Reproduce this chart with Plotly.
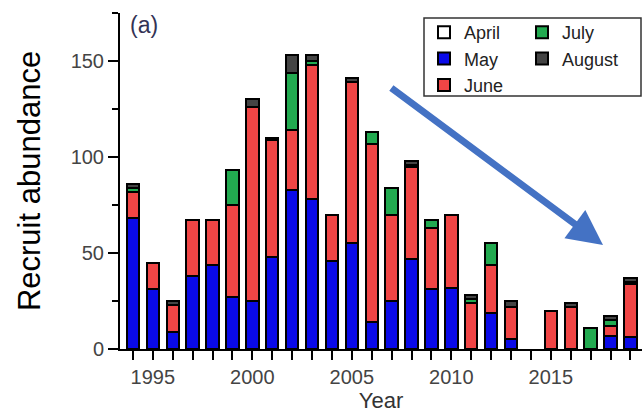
import plotly.graph_objects as go

# ---- data ----
years = list(range(1994, 2020))
april = [0] * 26
may = [68, 31, 9, 38, 44, 27, 25, 48, 83, 78, 46, 55, 14, 25, 47, 31, 32, 0, 19, 5, 0, 0, 0, 0, 7, 6]
june = [14, 14, 14, 29, 23, 48, 101, 61, 31, 70, 24, 84, 93, 45, 48, 32, 38, 24, 25, 17, 0, 20, 22, 0, 5, 28]
july = [2, 0, 0, 0, 0, 18, 0, 0, 30, 2, 0, 0, 6, 14, 1, 4, 0, 2, 11, 0, 0, 0, 0, 11, 3, 1]
august = [2, 0, 2, 0, 0, 0, 4, 1, 9, 3, 0, 2, 0, 0, 2, 0, 0, 2, 0, 3, 0, 0, 2, 0, 2, 2]

series = [
    ("April", april, "#ffffff", "legend"),
    ("May", may, "#0a0ae8", "legend"),
    ("June", june, "#f04545", "legend"),
    ("July", july, "#22aa50", "legend2"),
    ("August", august, "#444444", "legend2"),
]

FONT = "Liberation Sans, Arial, sans-serif"

fig = go.Figure()
for name, vals, color, lg in series:
    fig.add_trace(go.Bar(
        x=years, y=[v if v else None for v in vals], name=name, legend=lg,
        width=0.62,
        marker=dict(color=color, line=dict(color="black", width=2)),
    ))

# plot-area geometry in pixels (for placing legend/annotations)
W, H = 642, 413
L, R, T, B = 120, 0, 13, 64
pw, ph = W - L - R, H - T - B

def px(xp):
    return (xp - L) / pw

def py(yp):
    return (H - B - yp) / ph

leg_common = dict(xanchor="left", yanchor="top", bgcolor="rgba(0,0,0,0)",
                  borderwidth=0, traceorder="normal",
                  font=dict(size=18, color="#222", family=FONT),
                  tracegroupgap=0, itemclick=False)

fig.update_layout(
    width=W, height=H,
    margin=dict(l=L, r=R, t=T, b=B),
    barmode="stack",
    plot_bgcolor="white", paper_bgcolor="white",
    font=dict(family=FONT, color="#333"),
    legend=dict(x=px(424), y=py(14), **leg_common),
    legend2=dict(x=px(522), y=py(14), **leg_common),
    showlegend=True,
)

fig.update_xaxes(
    range=[1993.35, 2019.58],
    tickmode="linear", tick0=1995, dtick=5,
    ticks="outside", ticklen=9, tickwidth=2, tickcolor="black",
    minor=dict(tick0=1994, dtick=1, ticks="outside", ticklen=9, tickwidth=2, tickcolor="black"),
    showline=True, linecolor="black", linewidth=2,
    showgrid=False, zeroline=False,
    tickfont=dict(size=20, color="#444", family=FONT),
    title=dict(text="Year", font=dict(size=22, color="#333", family=FONT), standoff=2),
)
fig.update_yaxes(
    range=[0, 175],
    tickmode="linear", tick0=0, dtick=50,
    ticks="outside", ticklen=10, tickwidth=2, tickcolor="black",
    minor=dict(tick0=0, dtick=25, ticks="outside", ticklen=6, tickwidth=2, tickcolor="black"),
    showline=True, linecolor="black", linewidth=2,
    showgrid=False, zeroline=False,
    tickfont=dict(size=20, color="#444", family=FONT),
    title=dict(text="Recruit abundance", font=dict(size=31, color="black", family=FONT), standoff=21),
)

# legend frame
fig.add_shape(type="rect", xref="paper", yref="paper",
              x0=px(424), x1=px(641), y0=py(96), y1=py(18),
              line=dict(color="#333", width=1.5), fillcolor="rgba(0,0,0,0)")

# panel label
fig.add_annotation(text="(a)", xref="paper", yref="paper", x=px(128), y=py(25),
                   xanchor="left", yanchor="middle", showarrow=False,
                   font=dict(size=23, color="#333355", family=FONT))

# trend arrow
fig.add_annotation(text="", x=2017.62, y=54.2, ax=2006.91, ay=136.5,
                   xref="x", yref="y", axref="x", ayref="y",
                   showarrow=True, arrowhead=2, arrowsize=1, arrowwidth=7,
                   arrowcolor="#4472c4", standoff=0)

fig.write_html("out.html", config={"displayModeBar": False},
               post_script="document.body.style.margin='0';")
